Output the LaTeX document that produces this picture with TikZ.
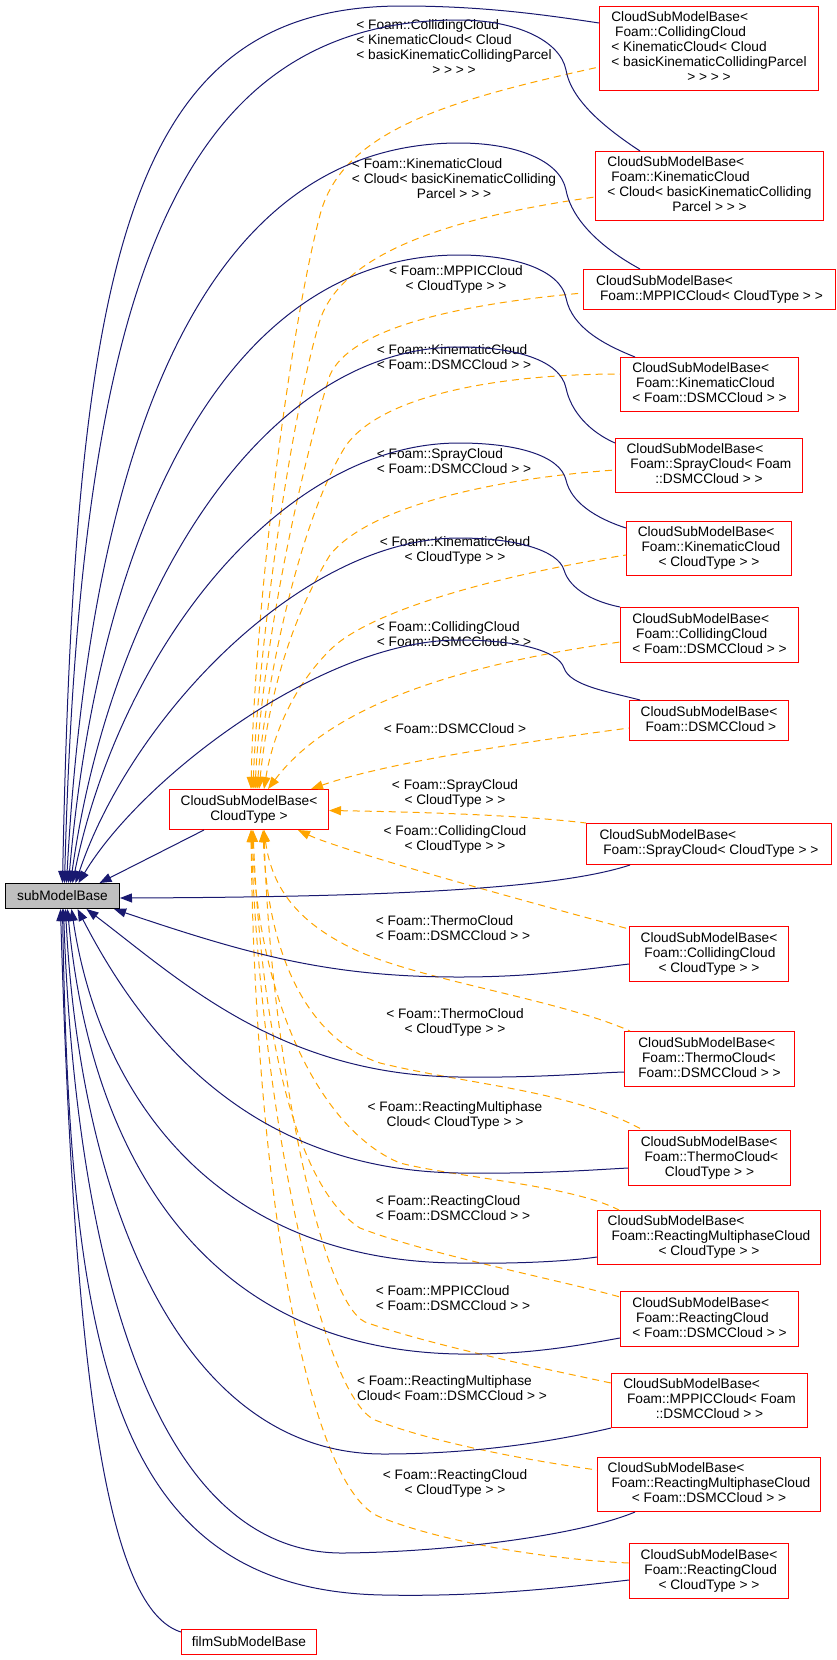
\documentclass[tikz,border=0pt]{standalone}
\usepackage{fontspec}
\setmainfont{Liberation Sans}
\usetikzlibrary{arrows.meta,calc}
\definecolor{edgeblue}{HTML}{191970}
\definecolor{edgeorange}{HTML}{FFA500}
\definecolor{subgray}{HTML}{BFBFBF}
\newcommand{\dlines}[2]{\begin{tabular}{@{}l@{}}#1\\\multicolumn{1}{@{}c@{}}{#2}\end{tabular}}
\begin{document}
\begin{tikzpicture}[x=1pt,y={(0pt,-1pt)},
  every node/.style={font=\fontsize{13.7}{15}\selectfont},
  cls/.style={draw=red, line width=1pt, fill=white, inner sep=0pt, anchor=north west},
  lbl/.style={inner sep=0pt},
  >={Triangle[length=12pt,width=9pt]},
  bl/.style={draw=edgeblue, line width=1pt, <-},
  orr/.style={draw=edgeorange, line width=1pt, dash pattern=on 7pt off 5pt, <-}]
\useasboundingbox (0,0) rectangle (836,1660);

% ---------- nodes ----------
\node[cls, minimum width=219, minimum height=84] (A) at (599,6)
  {\dlines{CloudSubModelBase<\\\ Foam::CollidingCloud\\< KinematicCloud< Cloud\\< basicKinematicCollidingParcel}{> > > >}};
\node[cls, minimum width=228, minimum height=69] (B) at (595,151)
  {\dlines{CloudSubModelBase<\\\ Foam::KinematicCloud\\< Cloud< basicKinematicColliding}{Parcel > > >}};
\node[cls, minimum width=252, minimum height=40] (C) at (583,269)
  {\dlines{CloudSubModelBase<}{\ Foam::MPPICCloud< CloudType > >}};
\node[cls, minimum width=178, minimum height=54] (D) at (620,357)
  {\dlines{CloudSubModelBase<\\\ Foam::KinematicCloud}{< Foam::DSMCCloud > >}};
\node[cls, minimum width=187, minimum height=54] (E) at (615,438)
  {\dlines{CloudSubModelBase<\\\ Foam::SprayCloud< Foam}{::DSMCCloud > >}};
\node[cls, minimum width=165, minimum height=54] (F) at (626,521)
  {\dlines{CloudSubModelBase<\\\ Foam::KinematicCloud}{< CloudType > >}};
\node[cls, minimum width=178, minimum height=55] (G) at (620,607)
  {\dlines{CloudSubModelBase<\\\ Foam::CollidingCloud}{< Foam::DSMCCloud > >}};
\node[cls, minimum width=159, minimum height=40] (H) at (629,700)
  {\dlines{CloudSubModelBase<}{\ Foam::DSMCCloud >}};
\node[cls, minimum width=159, minimum height=40] (CT) at (169,789)
  {\dlines{CloudSubModelBase<}{CloudType >}};
\node[cls, minimum width=245, minimum height=41] (I) at (586,823)
  {\dlines{CloudSubModelBase<}{\ Foam::SprayCloud< CloudType > >}};
\node[draw=black, fill=subgray, line width=1pt, inner sep=0pt, anchor=north west,
  minimum width=114, minimum height=25] (sub) at (5,883) {subModelBase};
\node[cls, minimum width=159, minimum height=55] (J) at (629,926)
  {\dlines{CloudSubModelBase<\\\ Foam::CollidingCloud}{< CloudType > >}};
\node[cls, minimum width=170, minimum height=55] (K) at (624,1031)
  {\dlines{CloudSubModelBase<\\\ Foam::ThermoCloud<}{Foam::DSMCCloud > >}};
\node[cls, minimum width=162, minimum height=55] (L) at (628,1130)
  {\dlines{CloudSubModelBase<\\\ Foam::ThermoCloud<}{CloudType > >}};
\node[cls, minimum width=223, minimum height=54] (M) at (597,1210)
  {\dlines{CloudSubModelBase<\\\ Foam::ReactingMultiphaseCloud}{< CloudType > >}};
\node[cls, minimum width=178, minimum height=55] (N) at (620,1291)
  {\dlines{CloudSubModelBase<\\\ Foam::ReactingCloud}{< Foam::DSMCCloud > >}};
\node[cls, minimum width=196, minimum height=54] (O) at (611,1373)
  {\dlines{CloudSubModelBase<\\\ Foam::MPPICCloud< Foam}{::DSMCCloud > >}};
\node[cls, minimum width=223, minimum height=54] (P) at (597,1457)
  {\dlines{CloudSubModelBase<\\\ Foam::ReactingMultiphaseCloud}{< Foam::DSMCCloud > >}};
\node[cls, minimum width=159, minimum height=55] (Q) at (629,1543)
  {\dlines{CloudSubModelBase<\\\ Foam::ReactingCloud}{< CloudType > >}};
\node[cls, minimum width=135, minimum height=25] (film) at (181,1629) {filmSubModelBase};

% ---------- labels ----------
\node[lbl] (lab1) at (454,49) {\dlines{< Foam::CollidingCloud\\< KinematicCloud< Cloud\\< basicKinematicCollidingParcel}{> > > >}};
\node[lbl] (lab2) at (454,180) {\dlines{< Foam::KinematicCloud\\< Cloud< basicKinematicColliding}{Parcel > > >}};
\node[lbl] (lab3) at (456,280) {\dlines{< Foam::MPPICCloud}{< CloudType > >}};
\node[lbl] (lab4) at (454,359) {\dlines{< Foam::KinematicCloud}{< Foam::DSMCCloud > >}};
\node[lbl] (lab5) at (454,463) {\dlines{< Foam::SprayCloud}{< Foam::DSMCCloud > >}};
\node[lbl] (lab6) at (455,551) {\dlines{< Foam::KinematicCloud}{< CloudType > >}};
\node[lbl] (lab7) at (454,636) {\dlines{< Foam::CollidingCloud}{< Foam::DSMCCloud > >}};
\node[lbl] (lab8) at (455,729) {< Foam::DSMCCloud >};
\node[lbl] (lab9) at (455,794) {\dlines{< Foam::SprayCloud}{< CloudType > >}};
\node[lbl] (lab10) at (455,840) {\dlines{< Foam::CollidingCloud}{< CloudType > >}};
\node[lbl] (lab11) at (453,930) {\dlines{< Foam::ThermoCloud}{< Foam::DSMCCloud > >}};
\node[lbl] (lab12) at (455,1023) {\dlines{< Foam::ThermoCloud}{< CloudType > >}};
\node[lbl] (lab13) at (455,1116) {\dlines{< Foam::ReactingMultiphase}{Cloud< CloudType > >}};
\node[lbl] (lab14) at (453,1210) {\dlines{< Foam::ReactingCloud}{< Foam::DSMCCloud > >}};
\node[lbl] (lab15) at (453,1300) {\dlines{< Foam::MPPICCloud}{< Foam::DSMCCloud > >}};
\node[lbl] (lab16) at (452,1390) {\dlines{< Foam::ReactingMultiphase}{Cloud< Foam::DSMCCloud > >}};
\node[lbl] (lab17) at (455,1484) {\dlines{< Foam::ReactingCloud}{< CloudType > >}};

% ---------- orange dashed edges (to CloudSubModelBase<CloudType>) ----------
\draw[orr] ($(CT.north west)+(82,0)$) .. controls (255,600) and (290,330) .. (320,215)
  .. controls (342,130) and (450,100) .. ($(A.north west)+(0,61)$);
\draw[orr] ($(CT.north west)+(84,0)$) .. controls (258,650) and (290,420) .. (320,320)
  .. controls (340,260) and (430,220) .. ($(B.north west)+(0,46)$);
\draw[orr] ($(CT.north west)+(86,0)$) .. controls (262,650) and (300,470) .. (330,375)
  .. controls (350,330) and (450,305) .. ($(C.north west)+(0,24)$);
\draw[orr] ($(CT.north west)+(88,0)$) .. controls (266,680) and (300,520) .. (345,447)
  .. controls (380,395) and (500,374) .. ($(D.north west)+(0,17)$);
\draw[orr] ($(CT.north west)+(90,0)$) .. controls (268,700) and (290,620) .. (330,555)
  .. controls (370,505) and (500,478) .. ($(E.north west)+(0,32)$);
\draw[orr] ($(CT.north west)+(95,0)$) .. controls (272,740) and (290,690) .. (330,650)
  .. controls (370,610) and (500,575) .. ($(F.north west)+(0,34)$);
\draw[orr] ($(CT.north west)+(99,0)$) .. controls (320,720) and (420,670) .. ($(G.north west)+(0,35)$);
\draw[orr] ($(CT.north east)+(-18,0)$) .. controls (380,765) and (500,745) .. ($(H.north west)+(0,28)$);
\draw[orr] ($(CT.east)+(0,1)$) .. controls (420,812) and (520,815) .. (I.north west);
\draw[orr] ($(CT.south east)+(-31,0)$) .. controls (340,850) and (520,900) .. ($(J.north west)+(0,3)$);
\draw[orr] ($(CT.south west)+(95,0)$) .. controls (272,890) and (300,925) .. (360,952)
  .. controls (430,982) and (560,1000) .. ($(K.north west)+(6,0)$);
\draw[orr] ($(CT.south west)+(94,0)$) .. controls (268,960) and (310,1040) .. (380,1063)
  .. controls (470,1085) and (570,1090) .. ($(L.north west)+(15,0)$);
\draw[orr] ($(CT.south west)+(83,0)$) .. controls (258,1000) and (320,1130) .. (400,1163)
  .. controls (460,1178) and (570,1185) .. ($(M.north west)+(22,0)$);
\draw[orr] ($(CT.south west)+(84,0)$) .. controls (262,1050) and (300,1190) .. (360,1228)
  .. controls (430,1255) and (560,1280) .. ($(N.north west)+(0,6)$);
\draw[orr] ($(CT.south west)+(95,0)$) .. controls (270,1050) and (320,1300) .. (365,1322)
  .. controls (430,1345) and (550,1370) .. ($(O.north west)+(0,10)$);
\draw[orr] ($(CT.south west)+(82,0)$) .. controls (260,1100) and (320,1395) .. (375,1420)
  .. controls (440,1445) and (540,1462) .. ($(P.north west)+(0,13)$);
\draw[orr] ($(CT.south west)+(82,0)$) .. controls (255,1200) and (310,1490) .. (380,1517)
  .. controls (450,1545) and (560,1560) .. ($(Q.north west)+(0,20)$);

% ---------- blue edges (to subModelBase) ----------
\draw[bl] (sub.north) .. controls (75,250) and (130,6) .. (402,6)
  .. controls (480,6) and (540,14) .. ($(A.north west)+(0,17)$);
\draw[bl] ($(sub.north)+(2,0)$) .. controls (80,300) and (170,20) .. (459,20)
  .. controls (515,20) and (560,40) .. (566,70)
  .. controls (571,100) and (605,128) .. ($(B.north west)+(45,0)$);
\draw[bl] ($(sub.north)+(4,0)$) .. controls (90,450) and (200,143) .. (459,143)
  .. controls (515,143) and (560,160) .. (566,190)
  .. controls (572,222) and (605,250) .. ($(C.north west)+(57,0)$);
\draw[bl] ($(sub.north)+(6,0)$) .. controls (100,520) and (230,255) .. (459,255)
  .. controls (515,255) and (560,270) .. (566,298)
  .. controls (572,328) and (605,345) .. ($(D.north west)+(15,0)$);
\draw[bl] ($(sub.north)+(8,0)$) .. controls (110,600) and (260,347) .. (459,347)
  .. controls (515,347) and (560,360) .. (566,388)
  .. controls (571,412) and (590,432) .. ($(E.north west)+(0,5)$);
\draw[bl] ($(sub.north)+(10,0)$) .. controls (120,650) and (280,443) .. (459,443)
  .. controls (515,443) and (560,455) .. (566,480)
  .. controls (571,502) and (595,518) .. ($(F.north west)+(0,7)$);
\draw[bl] ($(sub.north)+(13,0)$) .. controls (130,720) and (300,538) .. (459,538)
  .. controls (515,538) and (558,550) .. (564,570)
  .. controls (570,590) and (595,602) .. (G.north west);
\draw[bl] ($(sub.north)+(16,0)$) .. controls (140,780) and (320,640) .. (459,640)
  .. controls (515,640) and (558,650) .. (564,668)
  .. controls (570,686) and (610,692) .. ($(H.north west)+(11,0)$);
\draw[bl] ($(sub.north)+(37,0)$) -- ($(CT.south west)+(35,0)$);
\draw[bl] ($(sub.east)+(0,2)$) .. controls (400,897) and (560,888) .. ($(I.south west)+(44,0)$);
\draw[bl] ($(sub.south east)+(-6,0)$) .. controls (250,955) and (330,977) .. (459,977)
  .. controls (530,977) and (580,970) .. ($(J.north west)+(0,38)$);
\draw[bl] ($(sub.south)+(24,0)$) .. controls (180,980) and (280,1075) .. (459,1077)
  .. controls (540,1078) and (590,1073) .. ($(K.north west)+(0,41)$);
\draw[bl] ($(sub.south)+(15,0)$) .. controls (150,1050) and (260,1170) .. (459,1173)
  .. controls (540,1174) and (590,1170) .. ($(L.north west)+(0,38)$);
\draw[bl] ($(sub.south)+(9,0)$) .. controls (100,1100) and (220,1262) .. (459,1263)
  .. controls (520,1264) and (570,1261) .. ($(M.north west)+(0,47)$);
\draw[bl] ($(sub.south)+(5,0)$) .. controls (90,1150) and (200,1350) .. (459,1354)
  .. controls (530,1355) and (580,1345) .. ($(N.north west)+(0,47)$);
\draw[bl] ($(sub.south)+(3,0)$) .. controls (80,1200) and (180,1454) .. (383,1454)
  .. controls (480,1454) and (560,1440) .. (O.south west);
\draw[bl] ($(sub.south)+(1,0)$) .. controls (75,1250) and (150,1555) .. (344,1553)
  .. controls (450,1552) and (580,1535) .. ($(P.south west)+(38,0)$);
\draw[bl] (sub.south) .. controls (70,1350) and (110,1590) .. (383,1595)
  .. controls (480,1597) and (560,1588) .. ($(Q.north west)+(0,37)$);
\draw[bl] ($(sub.south)+(-2,0)$) .. controls (75,1400) and (110,1610) .. ($(film.north west)+(0,3)$);
\end{tikzpicture}
\end{document}
